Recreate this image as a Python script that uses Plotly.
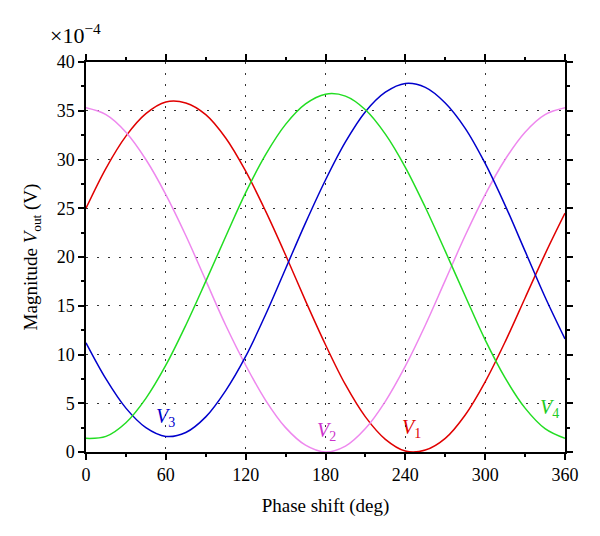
import plotly.graph_objects as go

phase = [0, 15, 30, 45, 60, 75, 90, 105, 120, 135, 150, 165, 180,
         195, 210, 225, 240, 255, 270, 285, 300, 315, 330, 345, 360]

v1 = [25.0, 29.1, 32.4, 34.7, 35.9, 35.8, 34.6, 32.2, 28.8, 24.7, 20.2, 15.5, 11.0,
      6.9, 3.6, 1.3, 0.1, 0.2, 1.4, 3.8, 7.2, 11.3, 15.8, 20.3, 24.5]
v2 = [35.3, 34.6, 32.8, 30.0, 26.4, 22.2, 17.6, 13.0, 8.9, 5.3, 2.5, 0.7, 0.0,
      0.6, 2.4, 5.2, 8.8, 13.0, 17.6, 22.2, 26.4, 30.0, 32.8, 34.6, 35.3]
v3 = [11.2, 7.5, 4.5, 2.5, 1.6, 2.0, 3.6, 6.3, 9.8, 14.1, 18.8, 23.5, 27.9,
      31.8, 34.9, 36.9, 37.8, 37.4, 35.8, 33.2, 29.6, 25.3, 20.6, 15.9, 11.6]
v4 = [1.4, 1.6, 3.0, 5.5, 8.9, 13.0, 17.5, 22.1, 26.6, 30.5, 33.6, 35.7, 36.7,
      36.5, 35.1, 32.6, 29.2, 25.1, 20.6, 16.0, 11.5, 7.6, 4.5, 2.4, 1.4]

series = [
    ("V1", v1, "#e00000", "#e00000", 245, 2.4, "1"),
    ("V2", v2, "#ee88ee", "#cc33cc", 180.5, 2.1, "2"),
    ("V3", v3, "#0000cc", "#0000cc", 60, 3.5, "3"),
    ("V4", v4, "#22dd22", "#22cc22", 348, 4.5, "4"),
]

FONT = "Liberation Serif, Times New Roman, serif"

fig = go.Figure()
for name, vals, col, lcol, lx, ly, sub in series:
    fig.add_trace(go.Scatter(x=phase, y=vals, mode="lines", name=name,
                             line=dict(color=col, width=1.5, shape="spline", smoothing=1.0),
                             showlegend=False, hoverinfo="skip"))
    fig.add_annotation(x=lx, y=ly, xref="x", yref="y", showarrow=False,
                       text=f"<i>V</i><sub>{sub}</sub>",
                       font=dict(family=FONT, size=20, color=lcol))

axis_common = dict(
    showline=True, linecolor="black", linewidth=1.5, mirror="ticks",
    ticks="outside", ticklen=6, tickwidth=1.5, tickcolor="black",
    showgrid=True, gridcolor="#333333", gridwidth=1.2, griddash="1.5px,9.5px",
    zeroline=False, automargin=False,
    tickfont=dict(family=FONT, size=18, color="black"),
)

fig.update_xaxes(range=[0, 360], tickvals=[0, 60, 120, 180, 240, 300, 360],
                 minor=dict(tickvals=[30, 90, 150, 210, 270, 330], ticklen=3,
                            tickcolor="black", tickwidth=1.5, ticks="outside", showgrid=False),
                 title=dict(text="Phase shift (deg)", font=dict(family=FONT, size=19, color="black"),
                            standoff=14),
                 **axis_common)
fig.update_yaxes(range=[0, 40], tickvals=[0, 5, 10, 15, 20, 25, 30, 35, 40],
                 minor=dict(tickvals=[2.5, 7.5, 12.5, 17.5, 22.5, 27.5, 32.5, 37.5], ticklen=3,
                            tickcolor="black", tickwidth=1.5, ticks="outside", showgrid=False),
                 title=dict(text="Magnitude <i>V</i><sub>out</sub> (V)",
                            font=dict(family=FONT, size=19, color="black"), standoff=14),
                 **axis_common)

fig.add_annotation(x=-0.08, y=1.03, xref="paper", yref="paper", xanchor="left", yanchor="bottom",
                   showarrow=False, text="×10<sup>−4</sup>",
                   font=dict(family=FONT, size=22, color="black"))

fig.update_layout(width=584, height=520, margin=dict(l=78, r=27, t=54, b=76),
                  paper_bgcolor="white", plot_bgcolor="white")

fig.write_html("out.html")
